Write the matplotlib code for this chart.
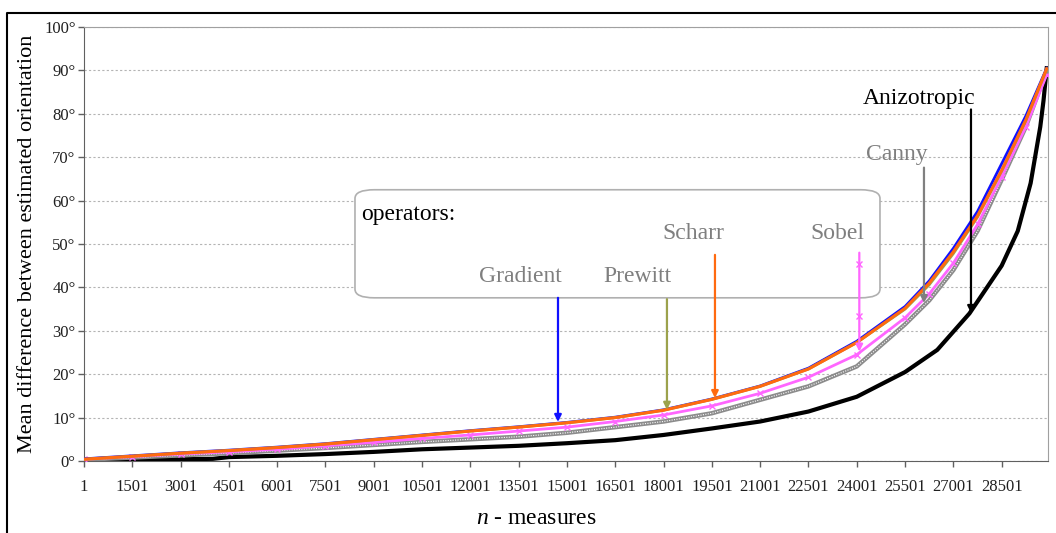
import matplotlib
matplotlib.use("Agg")
from matplotlib import pyplot as plt
from matplotlib.patches import FancyBboxPatch
from matplotlib.lines import Line2D

plt.rcParams['font.family'] = ['Liberation Serif', 'DejaVu Serif']
plt.rcParams['mathtext.fontset'] = 'custom'
plt.rcParams['mathtext.it'] = 'Liberation Serif:italic'
plt.rcParams['mathtext.rm'] = 'Liberation Serif'

# values (degrees)
n = [1, 1501, 3001, 4501, 6001, 7501, 9001, 10501, 12001, 13501, 15001,
     16501, 18001, 19501, 21001, 22501, 24001, 25501, 26251, 27001, 27751,
     28501, 29251, 29900]
gradient = [0.5, 1.2, 1.9, 2.5, 3.2, 4.0, 5.0, 6.0, 7.0, 7.9, 8.9,
            10.1, 11.8, 14.3, 17.3, 21.4, 27.6, 35.6, 41.5, 49.0, 57.5,
            68.5, 79.5, 90.5]
prewitt = [0.4, 1.1, 1.8, 2.4, 3.1, 3.9, 4.9, 5.9, 6.9, 7.8, 8.8,
           10.0, 11.7, 14.2, 17.2, 21.2, 27.3, 35.0, 40.6, 47.8, 56.2,
           66.8, 78.4, 90.3]
scharr = [0.4, 1.1, 1.8, 2.4, 3.1, 3.9, 4.9, 5.9, 6.9, 7.8, 8.8,
          10.0, 11.7, 14.2, 17.2, 21.2, 27.3, 35.2, 41.0, 48.2, 56.5,
          67.0, 78.6, 90.4]
sobel = [0.4, 1.0, 1.6, 2.1, 2.7, 3.5, 4.3, 5.2, 6.0, 6.9, 7.8,
         9.1, 10.6, 12.7, 15.6, 19.3, 24.5, 33.0, 38.5, 45.6, 54.5,
         65.5, 77.0, 89.0]
canny = [0.3, 0.8, 1.3, 1.8, 2.4, 3.0, 3.7, 4.4, 5.0, 5.6, 6.5,
         7.8, 9.1, 11.0, 14.1, 17.2, 21.8, 31.5, 37.0, 44.0, 53.0,
         64.8, 77.0, 90.0]

n_aniz = [1, 1501, 3001, 4001, 4501, 6001, 7501, 9001, 10501, 12001, 13501,
          15001, 16501, 18001, 19501, 21001, 22501, 24001, 25501, 26501,
          27501, 28501, 29001, 29400, 29700, 29800, 29900]
anizotropic = [0.3, 0.3, 0.4, 0.5, 0.9, 1.2, 1.6, 2.1, 2.7, 3.1, 3.5,
               4.1, 4.8, 6.0, 7.5, 9.1, 11.4, 14.8, 20.5, 25.6,
               34.0, 45.0, 53.0, 64.0, 77.0, 83.0, 90.5]

xticks = list(range(1, 30000, 1500))
yticks = list(range(0, 101, 10))

fig = plt.figure(figsize=(10.56, 5.33), dpi=100)
ax = fig.add_axes([84 / 1056, 1 - 461 / 533, 964 / 1056, 434 / 533])

ax.plot(n_aniz, anizotropic, c='black', lw=3.0, zorder=3)
ax.plot(n, canny, c='#8c8c8c', lw=3.2, zorder=4)
ax.plot(n, canny, c='white', lw=0.8, ls=(0, (1, 1.2)), zorder=4)
ax.plot(n, sobel, c='#ff66ff', lw=2.0, marker='x', ms=5, mew=1, zorder=5)
ax.plot(n, gradient, c='#1010ff', lw=2.0, zorder=6)
ax.plot(n, prewitt, c='#9ca24c', lw=2.0, zorder=6)
ax.plot(n, scharr, c='#ff6a10', lw=2.2, zorder=7)

ax.set_xlim(1, 29940)
ax.set_ylim(0, 100)
ax.set_xticks(xticks)
ax.set_xticklabels([str(t) for t in xticks])
ax.set_yticks(yticks)
ax.set_yticklabels([str(t) + '\u00b0' for t in yticks])
ax.tick_params(axis='x', direction='out', length=4, width=1, color='#606060',
               pad=9, labelsize=12, labelcolor='#202020')
ax.tick_params(axis='y', direction='out', length=4, width=1, color='#606060',
               pad=2, labelsize=12, labelcolor='#202020')
ax.grid(axis='y', ls=(0, (2, 2)), c='#b4b4b4', lw=0.8)
ax.set_axisbelow(True)
for s in ['left', 'bottom']:
    ax.spines[s].set_color('#606060')
for s in ['top', 'right']:
    ax.spines[s].set_color('#a0a0a0')

ax.set_ylabel('Mean difference between estimated orientation', fontsize=16,
              labelpad=5)
ax.set_xlabel('$n$ - measures', fontsize=17)
ax.xaxis.set_label_coords(0.469, -0.108)

# box with operator names
box = FancyBboxPatch((8417, 37.6), 24722 - 8417, 62.5 - 37.6,
                     boxstyle='round,pad=0,rounding_size=600',
                     mutation_aspect=1 / 300, fc='white', ec='#b0b0b0',
                     lw=1.2, zorder=2)
ax.add_patch(box)
ax.text(8600, 56.8, 'operators:', fontsize=17, va='center', ha='left', zorder=8)

gray_txt = '#7f7f7f'
labels = [
    ('Gradient', 13541, 42.5, 14722, 37.6, 9.0, '#1010ff'),
    ('Prewitt', 17175, 42.5, 18106, 37.3, 11.8, '#9ca24c'),
    ('Scharr', 18914, 52.4, 19597, 47.5, 14.5, '#ff6a10'),
    ('Sobel', 23386, 52.4, 24080, 48.0, 25.2, '#ff66ff'),
    ('Canny', 25250, 70.6, 26088, 67.6, 36.4, '#808080'),
    ('Anizotropic', 25933, 83.6, 27548, 81.0, 34.1, 'black'),
]
for name, tx, ty, arr_x, y0, y1, col in labels:
    tc = 'black' if name == 'Anizotropic' else gray_txt
    ax.text(tx, ty, name, fontsize=17, color=tc, ha='center', va='center',
            zorder=8)
    ax.annotate('', xy=(arr_x, y1), xytext=(arr_x, y0),
                arrowprops=dict(arrowstyle='-|>', color=col, lw=1.6,
                                mutation_scale=10, shrinkA=0, shrinkB=0),
                zorder=9)

# x markers along the Sobel arrow
ax.plot([24080, 24080], [45.5, 33.5], ls='none', marker='x', ms=5, mew=1,
        c='#ff66ff', zorder=9)

# outer frame
fig.add_artist(Line2D([7 / 1056, 7 / 1056, 1.0], [0.0, 1 - 13 / 533, 1 - 13 / 533],
                      color='black', lw=1.5))

plt.savefig("out.png")
